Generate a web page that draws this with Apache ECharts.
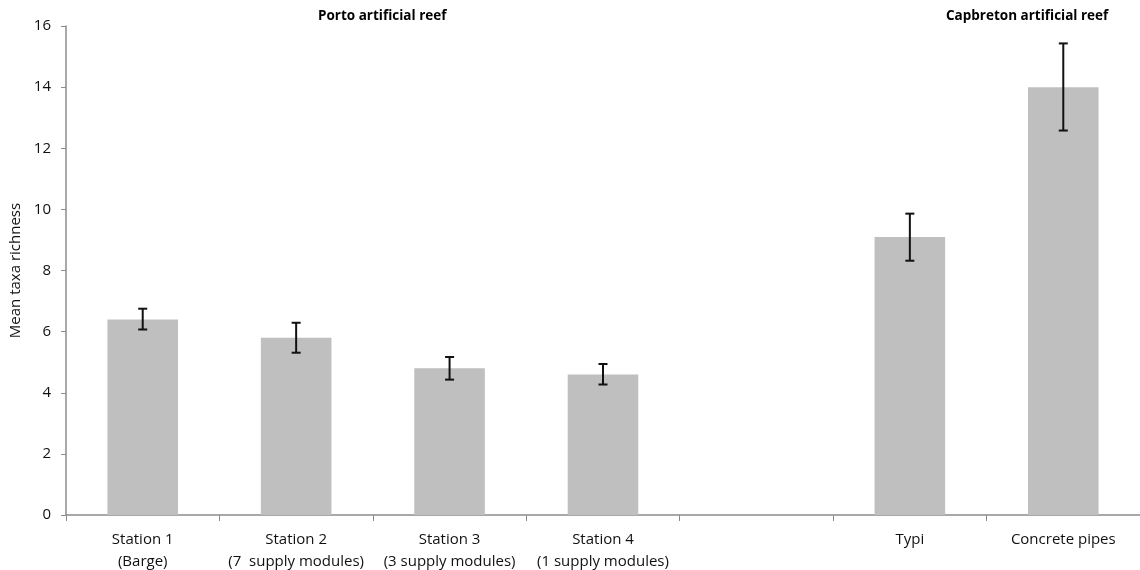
<!DOCTYPE html>
<html><head><meta charset="utf-8">
<script src="https://cdn.jsdelivr.net/npm/echarts@6/dist/echarts.min.js"></script>
<style>html,body{margin:0;padding:0;background:#fff}#c{width:1140px;height:570px}</style>
</head><body><div id="c"></div>
<script>
var categories = ['Station 1\n(Barge)', 'Station 2\n(7  supply modules)', 'Station 3\n(3 supply modules)', 'Station 4\n(1 supply modules)', '', 'Typi', 'Concrete pipes'];
var meanValues = [6.4, 5.8, 4.8, 4.6, null, 9.1, 14.0];
var errLow = [6.07, 5.31, 4.43, 4.27, null, 8.32, 12.58];
var errHigh = [6.75, 6.29, 5.17, 4.94, null, 9.86, 15.43];
var yTicks = [0, 2, 4, 6, 8, 10, 12, 14, 16];
var groupTitles = ['Porto artificial reef', 'Capbreton artificial reef'];

var font = 'Open Sans';
var chart = echarts.init(document.getElementById('c'));
var errData = [];
for (var i = 0; i < categories.length; i++) {
  if (meanValues[i] != null) errData.push([i, errLow[i], errHigh[i]]);
}
chart.setOption({
  animation: false,
  grid: {left: 66, right: 0, top: 26, bottom: 55, outerBoundsMode: 'none', containLabel: false},
  graphic: [
    {type: 'text', left: 318, top: 9, style: {text: groupTitles[0], font: 'bold 13.5px "Open Sans"', fill: '#000'}},
    {type: 'text', left: 946, top: 9, style: {text: groupTitles[1], font: 'bold 13.5px "Open Sans"', fill: '#000'}}
  ],
  xAxis: {
    type: 'category', data: categories,
    axisLine: {lineStyle: {color: '#8c8c8c', width: 1.5}},
    axisTick: {show: true, length: 6, lineStyle: {color: '#8c8c8c'}},
    axisLabel: {color: '#111', fontFamily: font, fontSize: 15, lineHeight: 22, margin: 14, interval: 0}
  },
  yAxis: {
    type: 'value', min: 0, max: 16, interval: 2,
    name: 'Mean taxa richness', nameLocation: 'middle', nameGap: 40, nameRotate: 90,
    nameTextStyle: {color: '#111', fontFamily: font, fontSize: 15},
    axisLine: {show: true, lineStyle: {color: '#8c8c8c', width: 1.5}},
    axisTick: {show: true, length: 5, lineStyle: {color: '#8c8c8c'}},
    axisLabel: {color: '#111', fontFamily: font, fontSize: 15, margin: 15},
    splitLine: {show: false}
  },
  series: [
    {type: 'bar', data: meanValues, barWidth: '46%', itemStyle: {color: '#bfbfbf'}},
    {type: 'custom', data: errData, z: 10,
     renderItem: function (params, api) {
       var x = api.value(0);
       var lo = api.coord([x, api.value(1)]);
       var hi = api.coord([x, api.value(2)]);
       var w = 4.5;
       var st = {stroke: '#111', lineWidth: 2};
       return {type: 'group', children: [
         {type: 'line', shape: {x1: lo[0], y1: lo[1], x2: hi[0], y2: hi[1]}, style: st},
         {type: 'line', shape: {x1: lo[0] - w, y1: lo[1], x2: lo[0] + w, y2: lo[1]}, style: st},
         {type: 'line', shape: {x1: hi[0] - w, y1: hi[1], x2: hi[0] + w, y2: hi[1]}, style: st}
       ]};
     }}
  ]
});
</script></body></html>
